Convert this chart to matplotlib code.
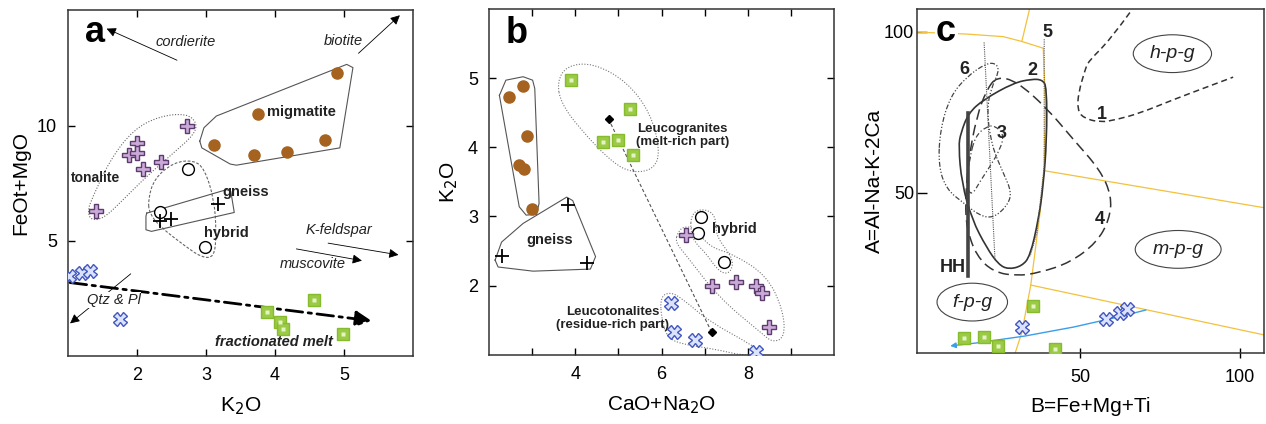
import matplotlib
matplotlib.use("Agg")
import matplotlib.pyplot as plt
from matplotlib.path import Path
from matplotlib.patches import PathPatch

plt.rcParams['font.family'] = ['Liberation Sans', 'DejaVu Sans']

# ---------------- panel a: FeOt+MgO vs K2O ----------------
a_mig_k2o = [4.90, 3.75, 3.12, 3.70, 4.18, 4.72]
a_mig_fm = [12.26, 10.52, 9.14, 8.74, 8.84, 9.36]
a_ton_k2o = [2.73, 2.00, 1.89, 2.00, 2.08, 2.35, 1.41]
a_ton_fm = [10.00, 9.25, 8.73, 8.81, 8.13, 8.43, 6.30]
a_hyb_k2o = [2.74, 2.34, 2.98]
a_hyb_fm = [8.12, 6.25, 4.73]
a_gn_k2o = [3.18, 2.34, 2.49]
a_gn_fm = [6.61, 5.87, 5.96]
a_lt_k2o = [1.02, 1.20, 1.32, 1.75]
a_lt_fm = [3.48, 3.60, 3.70, 1.62]
a_lg_k2o = [3.88, 4.56, 4.07, 4.11, 4.98]
a_lg_fm = [1.93, 2.43, 1.49, 1.16, 0.94]

a_mig_field = [(2.91, 9.32), (2.97, 9.90), (3.15, 10.41), (5.04, 12.65), (5.13, 12.51),
               (4.94, 9.03), (3.44, 8.28), (3.35, 8.33), (2.94, 9.03)]
a_ton_field = [(1.29, 6.35), (1.34, 6.78), (1.61, 8.52), (1.95, 9.83), (2.33, 10.41),
               (2.72, 10.52), (2.87, 10.12), (2.83, 9.61), (2.53, 8.81), (2.14, 7.80),
               (1.80, 6.78), (1.51, 5.95), (1.32, 5.90)]
a_hyb_field = [(2.16, 6.78), (2.25, 7.70), (2.53, 8.40), (2.82, 8.50), (2.98, 8.12),
               (3.12, 6.78), (3.15, 5.33), (3.12, 4.28), (2.94, 4.28), (2.72, 4.72),
               (2.33, 5.62), (2.18, 6.20)]
a_gn_field = [(2.14, 6.20), (3.30, 7.22), (3.36, 7.14), (3.41, 6.23), (2.21, 5.41),
              (2.13, 5.48), (2.13, 6.06)]

# ---------------- panel b: K2O vs CaO+Na2O ----------------
b_mig_cn = [2.47, 2.79, 2.87, 2.69, 2.81, 2.99]
b_mig_k2o = [4.73, 4.89, 4.17, 3.75, 3.68, 3.11]
b_gn_cn = [3.82, 2.29, 4.26]
b_gn_k2o = [3.17, 2.43, 2.33]
b_lg_cn = [3.91, 5.28, 4.64, 4.99, 5.34]
b_lg_k2o = [4.97, 4.56, 4.08, 4.10, 3.89]
b_hyb_cn = [6.92, 6.85, 7.44]
b_hyb_k2o = [2.99, 2.76, 2.34]
b_ton_cn = [6.57, 7.16, 7.73, 8.19, 8.32, 8.50]
b_ton_k2o = [2.73, 2.00, 2.06, 2.00, 1.89, 1.41]
b_lt_cn = [6.22, 6.30, 6.77, 8.19]
b_lt_k2o = [1.75, 1.33, 1.22, 1.04]
b_mean_cn = [4.77, 7.16]
b_mean_k2o = [4.41, 1.33]

b_mig_field = [(2.24, 4.75), (2.39, 4.97), (2.79, 5.02), (3.01, 4.97), (3.06, 4.85),
               (3.16, 3.19), (3.10, 3.03), (2.86, 3.02), (2.70, 3.14)]
b_gn_field = [(2.14, 2.37), (2.29, 2.63), (2.79, 2.90), (3.80, 3.28), (3.94, 3.23),
              (4.47, 2.42), (4.35, 2.24), (3.02, 2.21), (2.21, 2.27)]
b_lg_field = [(3.58, 4.95), (3.80, 5.18), (4.41, 5.22), (5.20, 4.95), (5.75, 4.49),
              (5.97, 3.94), (5.82, 3.68), (5.34, 3.63), (4.87, 3.77), (4.10, 4.27),
              (3.66, 4.65)]
b_hyb_field = [(6.69, 3.02), (6.88, 3.11), (7.17, 3.07), (7.27, 2.92), (7.27, 2.71),
               (7.63, 2.42), (7.65, 2.25), (7.50, 2.16), (7.28, 2.24), (7.03, 2.47),
               (6.76, 2.63), (6.67, 2.80)]
b_ton_field = [(6.38, 2.78), (6.53, 2.86), (6.78, 2.83), (7.11, 2.56), (7.65, 2.46),
               (8.44, 2.15), (8.82, 1.65), (8.86, 1.25), (8.57, 1.18), (8.31, 1.32),
               (7.34, 1.82), (6.53, 2.47), (6.32, 2.63)]
b_lt_field = [(5.97, 1.84), (6.20, 1.91), (6.49, 1.81), (7.11, 1.48), (8.11, 1.14),
              (8.33, 1.02), (7.96, 0.98), (7.19, 1.09), (6.49, 1.15), (6.13, 1.25),
              (6.00, 1.51)]

# ---------------- panel c: A-B diagram ----------------
c_lg_b = [13.75, 20.1, 24.5, 35.2, 42.2]
c_lg_a = [4.87, 5.19, 2.27, 14.7, 1.24]
c_lt_b = [31.8, 58.0, 62.5, 64.6]
c_lt_a = [8.0, 10.56, 12.4, 13.7]

c_field_1 = [(65.6, 106.0), (59.4, 97.5), (52.6, 90.8), (51.6, 88.2), (49.5, 81.0),
             (49.2, 75.8), (51.0, 73.2), (56.25, 71.8), (61.5, 72.7), (68.75, 74.7),
             (79.2, 78.9), (89.6, 82.8), (97.9, 85.9)]
c_field_2 = [(15.1, 74.7), (19.8, 78.9), (29.2, 84.1), (34.9, 85.3), (38.2, 85.1),
             (39.6, 82.8), (39.6, 66.5), (38.5, 52.0), (37.0, 41.6), (34.4, 30.2),
             (31.8, 27.1), (27.6, 26.1), (24.5, 27.6), (20.8, 32.8), (16.2, 41.6),
             (13.0, 53.0), (12.0, 64.4), (12.7, 68.5)]
c_field_3 = [(17.2, 67.5), (20.8, 70.6), (23.4, 70.8), (26.25, 68.0), (25.0, 63.4),
             (21.9, 58.2), (18.75, 53.5), (16.1, 48.9), (14.4, 52.0), (15.4, 60.2)]
c_field_4 = [(24.0, 86.1), (30.2, 84.6), (39.6, 76.3), (47.9, 66.5), (56.25, 57.1),
             (59.9, 48.9), (59.2, 41.6), (55.2, 34.4), (46.9, 28.2), (37.5, 25.1),
             (30.2, 24.0), (22.9, 25.3), (17.7, 30.2), (14.6, 38.5), (14.1, 46.8),
             (15.1, 60.2), (17.7, 73.7), (20.8, 82.0)]
c_field_5a = [(20.0, 96.7), (23.4, 29.2)]
c_field_5b = [(38.8, 97.7), (38.8, 58.2), (36.5, 37.5), (34.4, 30.2)]
c_field_6 = [(6.25, 69.6), (9.4, 79.9), (14.6, 86.1), (20.8, 90.3), (24.0, 90.1),
             (24.6, 87.4), (22.4, 83.0), (20.8, 75.8), (22.4, 64.4), (26.0, 56.1),
             (28.7, 49.9), (27.1, 45.7), (22.9, 42.1), (18.75, 42.7), (13.5, 46.8),
             (8.3, 50.9), (5.7, 58.2)]
c_hh = [(15.1, 74.7), (15.1, 24.0)]

c_bound_top = [(-1.0, 99.9), (14.6, 99.3), (26.0, 98.5), (31.8, 97.0), (38.5, 94.9)]
c_bound_up = [(31.8, 97.0), (34.2, 107.0)]
c_bound_main = [(38.5, 94.9), (39.2, 76.8), (38.75, 56.8), (37.5, 43.7), (34.6, 21.2),
                (31.8, 6.4), (29.7, 0.0)]
c_bound_mid = [(38.75, 56.8), (108.0, 45.2)]
c_bound_low = [(34.6, 21.2), (108.0, 5.6)]

# ---------------- styles ----------------
BROWN = '#a5631f'
GREEN_F, GREEN_E = '#9bcb45', '#86ba2f'
BLUE_F, BLUE_E = '#dbe2fb', '#4257c0'
PURP_F, PURP_E = '#cba9d9', '#5b3c6d'
YEL = '#f2c13d'
LINE = '#333333'

fig = plt.figure(figsize=(12.66, 4.24), dpi=100)
ax1 = fig.add_axes([0.0537, 0.160, 0.2725, 0.816])
ax2 = fig.add_axes([0.3863, 0.163, 0.2725, 0.816])
ax3 = fig.add_axes([0.7243, 0.167, 0.2740, 0.811])


def field(ax, pts, ls='-', color='#555555', lw=0.8, close=True):
    xs = [p[0] for p in pts]
    ys = [p[1] for p in pts]
    if close:
        xs.append(xs[0])
        ys.append(ys[0])
    ax.plot(xs, ys, ls=ls, color=color, lw=lw, zorder=2)


def smooth_field(ax, pts, ls='-', color='#555555', lw=0.8, close=True):
    # quadratic curve through the midpoints, vertices act as control points
    n = len(pts)
    mid = lambda p, q: ((p[0] + q[0]) / 2, (p[1] + q[1]) / 2)
    if close:
        verts = [mid(pts[-1], pts[0])]
        codes = [Path.MOVETO]
        for i in range(n):
            verts += [pts[i], mid(pts[i], pts[(i + 1) % n])]
            codes += [Path.CURVE3, Path.CURVE3]
    else:
        verts = [pts[0]]
        codes = [Path.MOVETO]
        for i in range(1, n - 1):
            verts += [pts[i], mid(pts[i], pts[i + 1])]
            codes += [Path.CURVE3, Path.CURVE3]
        verts.append(pts[-1])
        codes.append(Path.LINETO)
    ax.add_patch(PathPatch(Path(verts, codes), fill=False, ls=ls, edgecolor=color,
                           lw=lw, zorder=2))


def symbols(ax, x, y, kind):
    if kind == 'mig':
        ax.plot(x, y, 'o', ms=8, mfc=BROWN, mec=BROWN, ls='none', zorder=4)
    elif kind == 'ton':
        ax.plot(x, y, 'P', ms=9.5, mfc=PURP_F, mec=PURP_E, mew=1.0, ls='none', zorder=4)
    elif kind == 'hyb':
        ax.plot(x, y, 'o', ms=8.5, mfc='white', mec='black', mew=1.0, ls='none', zorder=4)
    elif kind == 'gn':
        ax.plot(x, y, '+', ms=10, color='black', mew=1.3, ls='none', zorder=4)
    elif kind == 'lt':
        ax.plot(x, y, 'X', ms=10, mfc=BLUE_F, mec=BLUE_E, mew=1.0, ls='none', zorder=4)
    elif kind == 'lg':
        ax.plot(x, y, 's', ms=9, mfc=GREEN_F, mec=GREEN_E, mew=1.0, ls='none', zorder=4)
        ax.plot(x, y, 's', ms=2.5, mfc='#e4f2c8', mec='none', ls='none', zorder=5)


def arrow(ax, start, end, scale=14, lw=0.6):
    ax.annotate('', xy=end, xytext=start,
                arrowprops=dict(arrowstyle='-|>', mutation_scale=scale, lw=lw,
                                color='black', shrinkA=0, shrinkB=0),
                zorder=3)


def label(ax, x, y, s, size=10.5, **kw):
    ax.text(x, y, s, fontsize=size, ha='center', va='center', color='#222222', **kw)


def style_axes(ax):
    for s in ax.spines.values():
        s.set_linewidth(1.1)
        s.set_color('#333333')
    ax.tick_params(which='both', direction='in', length=5, width=1, top=True, right=True,
                   labelsize=13, pad=8)


# ---------- panel a ----------
ax = ax1
field(ax, a_mig_field, '-')
smooth_field(ax, a_ton_field, (0, (1, 1.5)), color='#666666')
smooth_field(ax, a_hyb_field, (0, (2.5, 1.5)), color='#666666')
field(ax, a_gn_field, '-')
symbols(ax, a_mig_k2o, a_mig_fm, 'mig')
symbols(ax, a_ton_k2o, a_ton_fm, 'ton')
symbols(ax, a_hyb_k2o, a_hyb_fm, 'hyb')
symbols(ax, a_gn_k2o, a_gn_fm, 'gn')
symbols(ax, a_lt_k2o, a_lt_fm, 'lt')
symbols(ax, a_lg_k2o, a_lg_fm, 'lg')
ax.annotate('', xy=(5.40, 1.53), xytext=(1.03, 3.19),
            arrowprops=dict(arrowstyle='-|>', mutation_scale=24, lw=2.0, color='black',
                            linestyle=(0, (6, 2, 1.2, 2)), shrinkA=0, shrinkB=0), zorder=3)
arrow(ax, (2.58, 12.83), (1.56, 14.20))
arrow(ax, (5.21, 13.13), (5.81, 14.78))
arrow(ax, (4.77, 4.90), (5.79, 4.39))
arrow(ax, (4.31, 4.65), (5.26, 4.14))
arrow(ax, (1.91, 3.57), (1.03, 1.42))
ax.text(1.39, 14.05, 'a', fontsize=26, fontweight='bold', ha='center', va='center')
label(ax, 2.70, 13.6, 'cordierite', style='italic')
label(ax, 4.99, 13.67, 'biotite', style='italic')
label(ax, 4.38, 10.6, 'migmatite', fontweight='bold')
label(ax, 1.40, 7.73, 'tonalite', size=10, fontweight='bold')
label(ax, 3.57, 7.10, 'gneiss', fontweight='bold')
label(ax, 3.29, 5.33, 'hybrid', fontweight='bold')
label(ax, 4.92, 5.45, 'K-feldspar', style='italic')
label(ax, 4.55, 4.00, 'muscovite', style='italic')
ax.text(1.66, 2.43, 'Qtz & Pl', fontsize=10.5, style='italic', ha='center', va='center',
        color='#222222', zorder=3.5,
        bbox=dict(facecolor='white', edgecolor='none', pad=0.5))
label(ax, 3.99, 0.62, 'fractionated melt', style='italic', fontweight='bold')
ax.set_xlim(1, 6)
ax.set_ylim(0, 15)
ax.set_xticks([2, 3, 4, 5])
ax.set_yticks([5, 10])
style_axes(ax)
ax.set_xlabel('K$_2$O', fontsize=15, labelpad=8)
ax.set_ylabel('FeOt+MgO', fontsize=15, labelpad=5)

# ---------- panel b ----------
ax = ax2
field(ax, b_mig_field, '-')
field(ax, b_gn_field, '-')
for f in (b_lg_field, b_hyb_field, b_ton_field, b_lt_field):
    smooth_field(ax, f, (0, (1, 1.5)), color='#777777')
ax.plot(b_mean_cn, b_mean_k2o, ls=(0, (3, 2)), color='#555555', lw=0.8, zorder=2)
ax.plot(b_mean_cn, b_mean_k2o, 'D', ms=4, color='black', ls='none', zorder=4)
symbols(ax, b_mig_cn, b_mig_k2o, 'mig')
symbols(ax, b_gn_cn, b_gn_k2o, 'gn')
symbols(ax, b_lg_cn, b_lg_k2o, 'lg')
symbols(ax, b_hyb_cn, b_hyb_k2o, 'hyb')
symbols(ax, b_ton_cn, b_ton_k2o, 'ton')
symbols(ax, b_lt_cn, b_lt_k2o, 'lt')
ax.text(2.64, 5.64, 'b', fontsize=26, fontweight='bold', ha='center', va='center')
label(ax, 6.49, 4.17, 'Leucogranites\n(melt-rich part)', size=9.5, fontweight='bold', linespacing=1.1)
label(ax, 4.86, 1.52, 'Leucotonalites\n(residue-rich part)', size=9.5, fontweight='bold', linespacing=1.1)
label(ax, 7.69, 2.82, 'hybrid', fontweight='bold')
label(ax, 3.41, 2.66, 'gneiss', fontweight='bold')
ax.set_xlim(2, 10)
ax.set_ylim(1, 6)
ax.set_xticks([4, 6, 8])
ax.set_xticks([3, 5, 7, 9], minor=True)
ax.set_yticks([2, 3, 4, 5])
style_axes(ax)
ax.set_xlabel('CaO+Na$_2$O', fontsize=15, labelpad=8)
ax.set_ylabel('K$_2$O', fontsize=15, labelpad=6)

# ---------- panel c ----------
ax = ax3
for seg in (c_bound_top, c_bound_up, c_bound_main, c_bound_mid, c_bound_low):
    field(ax, seg, '-', color=YEL, lw=0.9, close=False)
smooth_field(ax, c_field_1, (0, (4, 2.5)), color=LINE, lw=1.1, close=False)
smooth_field(ax, c_field_2, '-', color=LINE, lw=1.2)
smooth_field(ax, c_field_3, (0, (4, 2, 1, 2)), color='#444444', lw=0.9)
smooth_field(ax, c_field_4, (0, (7, 3.5)), color=LINE, lw=1.1)
field(ax, c_field_5a, (0, (1, 1)), color='#555555', lw=0.8, close=False)
field(ax, c_field_5b, (0, (1, 1)), color='#555555', lw=0.8, close=False)
smooth_field(ax, c_field_6, (0, (4, 1.5, 1, 1.5, 1, 1.5)), color='#444444', lw=0.9)
field(ax, c_hh, '-', color='#444444', lw=2.6, close=False)
ax.annotate('', xy=(9.4, 2.27), xytext=(70.6, 13.45),
            arrowprops=dict(arrowstyle='-|>', mutation_scale=8, lw=1.0, color='#3a9ee8',
                            connectionstyle='arc3,rad=-0.04', shrinkA=0, shrinkB=0), zorder=3)
symbols(ax, c_lg_b, c_lg_a, 'lg')
symbols(ax, c_lt_b, c_lt_a, 'lt')
ax.text(8.1, 100.1, 'c', fontsize=26, fontweight='bold', ha='center', va='center',
        bbox=dict(facecolor='white', edgecolor='none', pad=1), zorder=5)
for lab, bx, ay in [('5', 39.8, 99.8), ('6', 13.75, 88.2), ('2', 35.1, 87.9),
                    ('3', 25.5, 68.3), ('1', 56.8, 74.2), ('4', 56.25, 41.6),
                    ('HH', 10.2, 26.6)]:
    label(ax, bx, ay, lab, size=13, fontweight='bold')
for lab, bx, ay in [('h-p-g', 78.9, 93.2), ('m-p-g', 80.7, 32.3), ('f-p-g', 16.3, 15.9)]:
    label(ax, bx, ay, lab, size=14, style='italic',
          bbox=dict(boxstyle='ellipse,pad=0.25', facecolor='white', edgecolor='#444', lw=0.8))
ax.set_xlim(-1, 107.5)
ax.set_ylim(0, 107)
ax.set_xticks([50, 100])
ax.set_yticks([50, 100])
for s in ax.spines.values():
    s.set_linewidth(1.1)
    s.set_color('#333333')
ax.tick_params(axis='x', direction='inout', length=7, width=1, labelsize=13, pad=8)
ax.tick_params(axis='y', direction='in', length=7, width=1, labelsize=13, pad=2)
ax.set_xlabel('B=Fe+Mg+Ti', fontsize=15, labelpad=8)
ax.set_ylabel('A=Al-Na-K-2Ca', fontsize=15, labelpad=0)

fig.savefig('out.png', dpi=100)
